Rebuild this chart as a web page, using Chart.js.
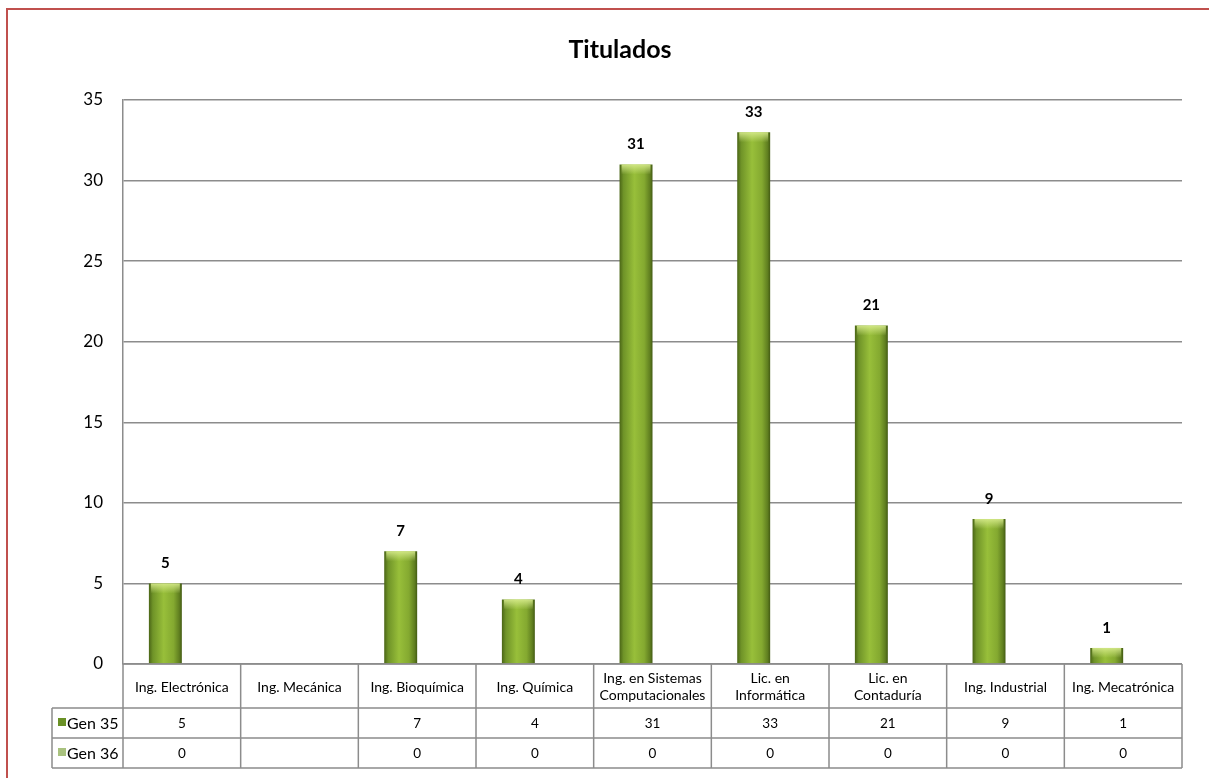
<!DOCTYPE html>
<html>
<head>
<meta charset="utf-8">
<script src="https://cdn.jsdelivr.net/npm/chart.js@4.4.1/dist/chart.umd.min.js"></script>
<style>
  body { margin: 0; background: #fff; }
  #wrap { width: 1209px; height: 778px; }
</style>
</head>
<body>
<div id="wrap"><canvas id="grafico" width="1209" height="778"></canvas></div>
<script>
// datos del gráfico
const carreras = [
  ["Ing. Electrónica"], ["Ing. Mecánica"], ["Ing. Bioquímica"], ["Ing. Química"],
  ["Ing. en Sistemas", "Computacionales"], ["Lic. en", "Informática"],
  ["Lic. en", "Contaduría"], ["Ing. Industrial"], ["Ing. Mecatrónica"]
];
const gen35 = [5, null, 7, 4, 31, 33, 21, 9, 1];
const gen36 = [0, null, 0, 0, 0, 0, 0, 0, 0];
const ticksY = [0, 5, 10, 15, 20, 25, 30, 35];

const fuente = "Lato, 'Open Sans', sans-serif";
const colorLinea = "#8c8c8c";

// degradado horizontal tipo cilindro
function degradado(ctx, x0, x1) {
  const g = ctx.createLinearGradient(x0, 0, x1, 0);
  g.addColorStop(0, "#4a6516");
  g.addColorStop(0.12, "#6f9328");
  g.addColorStop(0.45, "#98bf3a");
  g.addColorStop(0.75, "#84a930");
  g.addColorStop(0.92, "#607f20");
  g.addColorStop(1, "#435b13");
  return g;
}

const pluginFondo = {
  id: "fondo",
  beforeDraw(chart) {
    const ctx = chart.ctx;
    ctx.save();
    ctx.fillStyle = "#fff";
    ctx.fillRect(0, 0, chart.width, chart.height);
    ctx.strokeStyle = "#c0504d";
    ctx.lineWidth = 2;
    ctx.strokeRect(7, 9, 1400, 1000);
    // título
    ctx.fillStyle = "#000";
    ctx.font = "bold 25px " + fuente;
    ctx.textAlign = "center";
    ctx.textBaseline = "alphabetic";
    ctx.fillText("Titulados", 620, 58);
    ctx.restore();
  }
};

const pluginBarras = {
  id: "barras",
  beforeDatasetsDraw(chart) {
    const ctx = chart.ctx;
    chart.getDatasetMeta(0).data.forEach(el => {
      el.options.backgroundColor = degradado(ctx, el.x - el.width / 2, el.x + el.width / 2);
    });
  },
  afterDatasetsDraw(chart) {
    const ctx = chart.ctx;
    ctx.save();
    chart.getDatasetMeta(0).data.forEach((el, i) => {
      if (gen35[i] === null) return;
      // brillo en la parte de arriba
      const x0 = el.x - el.width / 2 + 2, w = el.width - 4;
      const h = Math.min(10, el.base - el.y);
      const g = ctx.createLinearGradient(0, el.y, 0, el.y + h);
      g.addColorStop(0, "rgba(215,235,140,0.9)");
      g.addColorStop(1, "rgba(215,235,140,0)");
      ctx.fillStyle = g;
      ctx.fillRect(x0, el.y, w, h);
      // etiqueta
      ctx.fillStyle = "#000";
      ctx.font = "bold 15px " + fuente;
      ctx.textAlign = "center";
      ctx.textBaseline = "middle";
      ctx.fillText(String(gen35[i]), el.x, el.y - 20);
    });
    ctx.restore();
  }
};

const pluginTabla = {
  id: "tabla",
  afterDraw(chart) {
    const ctx = chart.ctx;
    const a = chart.chartArea;
    const xs = chart.scales.x;
    const n = carreras.length;
    const ancho = (a.right - a.left) / n;
    const y0 = a.bottom, y1 = y0 + 44, y2 = y1 + 30, y3 = y2 + 30;
    const izq = 52;
    ctx.save();
    ctx.strokeStyle = colorLinea;
    ctx.lineWidth = 1.5;
    ctx.beginPath();
    ctx.moveTo(a.left, y0); ctx.lineTo(a.right, y0);
    ctx.moveTo(izq, y1); ctx.lineTo(a.right, y1);
    ctx.moveTo(izq, y2); ctx.lineTo(a.right, y2);
    ctx.moveTo(izq, y3); ctx.lineTo(a.right, y3);
    ctx.moveTo(izq, y1); ctx.lineTo(izq, y3);
    for (let i = 0; i <= n; i++) {
      const x = a.left + i * ancho;
      ctx.moveTo(x, y0); ctx.lineTo(x, y3);
    }
    ctx.stroke();

    ctx.fillStyle = "#000";
    ctx.textAlign = "center";
    ctx.textBaseline = "middle";
    carreras.forEach((c, i) => {
      const cx = xs.getPixelForValue(i);
      ctx.font = "14px " + fuente;
      if (c.length === 1) {
        ctx.fillText(c[0], cx, (y0 + y1) / 2 + 1);
      } else {
        ctx.fillText(c[0], cx, (y0 + y1) / 2 - 8);
        ctx.fillText(c[1], cx, (y0 + y1) / 2 + 9);
      }
      ctx.font = "13.5px " + fuente;
      if (gen35[i] !== null) ctx.fillText(String(gen35[i]), cx, (y1 + y2) / 2 + 1);
      if (gen36[i] !== null) ctx.fillText(String(gen36[i]), cx, (y2 + y3) / 2 + 1);
    });

    // leyenda en la tabla
    const filas = [["Gen 35", "#6a9126", y1, y2], ["Gen 36", "#a9c27f", y2, y3]];
    filas.forEach(f => {
      const cy = (f[2] + f[3]) / 2;
      ctx.fillStyle = f[1];
      ctx.fillRect(58, cy - 5, 8, 8);
      ctx.fillStyle = "#000";
      ctx.textAlign = "left";
      ctx.font = "16px " + fuente;
      ctx.fillText(f[0], 67, cy + 1);
    });
    ctx.restore();
  }
};

new Chart(document.getElementById("grafico"), {
  type: "bar",
  data: {
    labels: carreras,
    datasets: [
      { label: "Gen 35", data: gen35, backgroundColor: () => "#8db33a", borderWidth: 0 },
      { label: "Gen 36", data: gen36, backgroundColor: "#a9c27f", borderWidth: 0 }
    ]
  },
  options: {
    responsive: false,
    animation: false,
    events: [],
    layout: { padding: { top: 100, bottom: 114, right: 27, left: 0 } },
    datasets: { bar: { categoryPercentage: 0.56, barPercentage: 1 } },
    plugins: { legend: { display: false }, title: { display: false }, tooltip: { enabled: false } },
    scales: {
      x: { display: false },
      y: {
        min: 0, max: 35,
        afterFit(scale) { scale.width = 123; },
        afterBuildTicks(scale) { scale.ticks = ticksY.map(v => ({ value: v })); },
        ticks: { color: "#000", font: { family: fuente, size: 17 }, padding: 20 },
        grid: { color: colorLinea, lineWidth: 1.5, drawTicks: false },
        border: { display: true, color: colorLinea, width: 1.5 }
      }
    }
  },
  plugins: [pluginFondo, pluginBarras, pluginTabla]
});
</script>
</body>
</html>
